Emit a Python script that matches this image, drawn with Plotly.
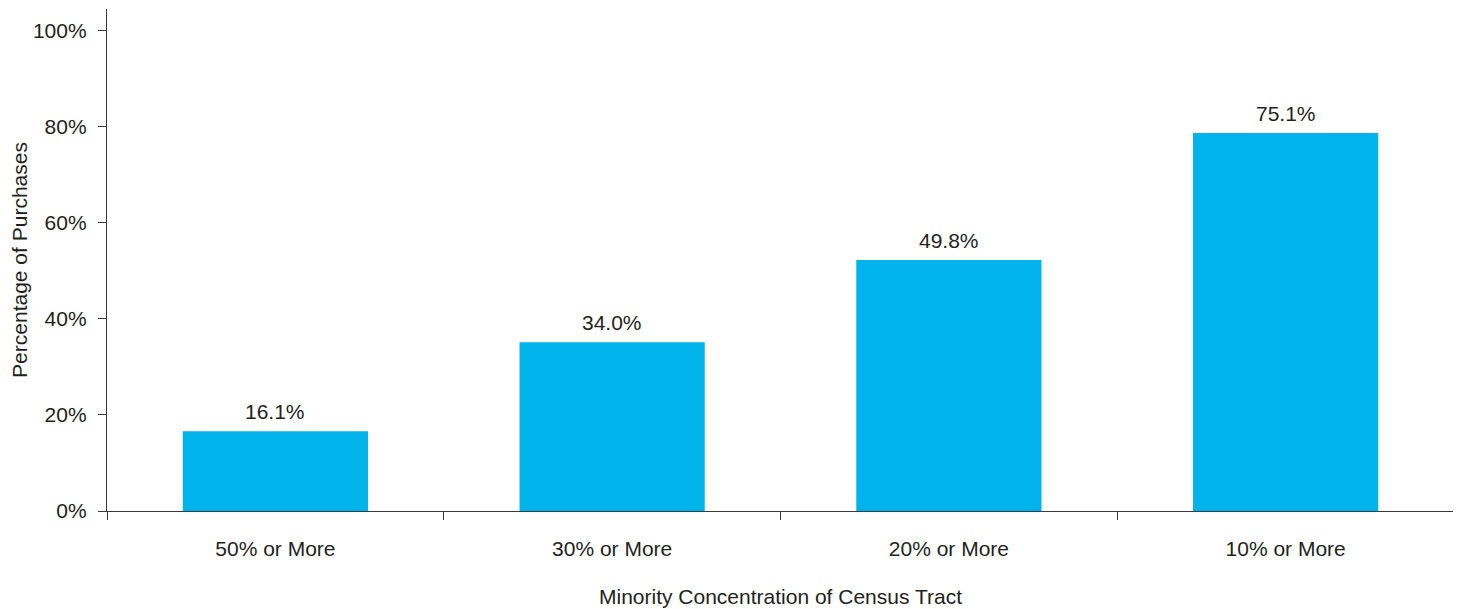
import plotly.graph_objects as go

categories = ["50% or More", "30% or More", "20% or More", "10% or More"]
bar_heights = [16.6, 35.1, 52.2, 78.6]
bar_labels = ["16.1%", "34.0%", "49.8%", "75.1%"]
y_tick_vals = [0, 20, 40, 60, 80, 100]
y_tick_text = ["0%", "20%", "40%", "60%", "80%", "100%"]

FONT = "Liberation Sans, Arial, Helvetica, sans-serif"
FS = 21
TXT = "#231f20"
AX = "#3a3a3a"

fig = go.Figure()
fig.add_trace(go.Bar(
    x=categories, y=bar_heights,
    marker=dict(color="#00B3EA", line=dict(width=0)),
    width=0.55,
    hoverinfo="skip",
))

for c, h, t in zip(categories, bar_heights, bar_labels):
    fig.add_annotation(x=c, y=h, text=t, showarrow=False, yanchor="bottom",
                       yshift=6, font=dict(family=FONT, size=FS, color=TXT))

# page has an 8px body margin, so the figure is sized/offset to compensate
fig.update_layout(
    width=1453, height=601,
    margin=dict(l=99, r=7, t=1, b=98),
    plot_bgcolor="white", paper_bgcolor="white",
    showlegend=False,
    font=dict(family=FONT, size=FS, color=TXT),
)
fig.update_xaxes(
    automargin=False,
    showline=True, linecolor=AX, linewidth=1.3,
    ticks="outside", tickson="boundaries", ticklen=8, tickcolor=AX, tickwidth=1.3,
    showgrid=False, zeroline=False,
    tickfont=dict(family=FONT, size=FS, color=TXT),
    ticklabelstandoff=19,
    title=dict(text="Minority Concentration of Census Tract", standoff=29,
               font=dict(family=FONT, size=FS, color=TXT)),
)
fig.update_yaxes(
    automargin=False,
    range=[0, 104.4],
    showline=True, linecolor=AX, linewidth=1.3,
    ticks="outside", ticklen=8, tickcolor=AX, tickwidth=1.3,
    tickvals=y_tick_vals, ticktext=y_tick_text,
    showgrid=False, zeroline=False,
    tickfont=dict(family=FONT, size=FS, color=TXT),
    ticklabelstandoff=7,
    title=dict(text="Percentage of Purchases", standoff=8,
               font=dict(family=FONT, size=FS, color=TXT)),
)

fig.write_html("out.html")
